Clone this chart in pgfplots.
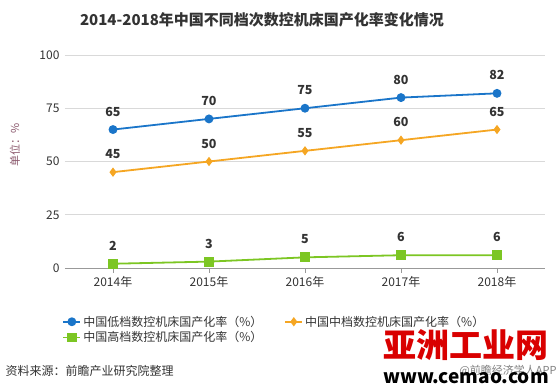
\documentclass[border=0pt]{standalone}
\usepackage{fontspec}
\setmainfont{Noto Sans CJK SC}
\usepackage{pgfplots}
\pgfplotsset{compat=1.18}
\definecolor{cblue}{HTML}{1A75C9}
\definecolor{corange}{HTML}{F5A623}
\definecolor{cgreen}{HTML}{7CC623}
\definecolor{ctext}{HTML}{333333}
\definecolor{cylab}{RGB}{140,90,110}
\begin{document}
\begin{tikzpicture}[x=1pt,y=1pt]
\path[use as bounding box] (0,0) rectangle (560,391);
\node[font=\bfseries\fontsize{15}{18}\selectfont, text=ctext] at (262,371) {2014-2018年中国不同档次数控机床国产化率变化情况};
\node[rotate=90, font=\fontsize{11}{13}\selectfont, text=cylab] at (15,246) {单位：\%};
\begin{axis}[at={(65pt,123pt)}, anchor=south west, scale only axis,
  width=480pt, height=213pt,
  xmin=-0.5, xmax=4.5, ymin=0, ymax=100,
  xtick={0,1,2,3,4},
  xticklabels={2014年,2015年,2016年,2017年,2018年},
  ytick={0,25,50,75,100},
  /pgf/number format/assume math mode=true,
  axis x line*=bottom, axis y line*=left,
  x axis line style={draw=gray!80, line width=0.8pt, -},
  y axis line style={draw=none},
  ytick style={draw=none},
  xtick style={draw=gray!80, line width=0.8pt},
  xtick align=outside, major tick length=5pt,
  ymajorgrids, grid style={draw=gray!30, line width=0.8pt},
  tick label style={font=\fontsize{12}{14}\selectfont, text=ctext},
  yticklabel style={xshift=-2pt},
  nodes near coords,
  every node near coord/.append style={font=\bfseries\fontsize{12.5}{14}\selectfont, text=ctext, yshift=9pt},
  legend columns=2,
  legend cell align=left,
  legend style={at={(rel axis cs:-0.012,-0.205)}, anchor=north west, draw=none, fill=none,
    font=\fontsize{12}{14}\selectfont, text=ctext, row sep=0pt,
    /tikz/every even column/.append style={column sep=20pt}},
  clip=false,
]
\addplot[cblue, line width=1.8pt, mark=*, mark size=3.5pt] coordinates {(0,65) (1,70) (2,75) (3,80) (4,82)};
\addlegendentry{中国低档数控机床国产化率（\%）}
\addplot[corange, line width=1.8pt, mark=diamond*, mark size=3.2pt] coordinates {(0,45) (1,50) (2,55) (3,60) (4,65)};
\addlegendentry{中国中档数控机床国产化率（\%）}
\addplot[cgreen, line width=1.8pt, mark=square*, mark size=4pt] coordinates {(0,2) (1,3) (2,5) (3,6) (4,6)};
\addlegendentry{中国高档数控机床国产化率（\%）}
\end{axis}
\node[anchor=west, font=\fontsize{12}{14}\selectfont, text=ctext] at (2,20) {资料来源：前瞻产业研究院整理};
\node[font=\bfseries\fontsize{33}{35}\selectfont, text=red!85!black] at (466,46) {亚洲工业网};
\node[anchor=east, font=\fontsize{11}{13}\selectfont, text=gray] at (560,20) {@前瞻经济学人APP};
\node[font=\bfseries\fontsize{19}{21}\selectfont, text=black] at (466,13) {www.cemao.com};
\end{tikzpicture}
\end{document}
